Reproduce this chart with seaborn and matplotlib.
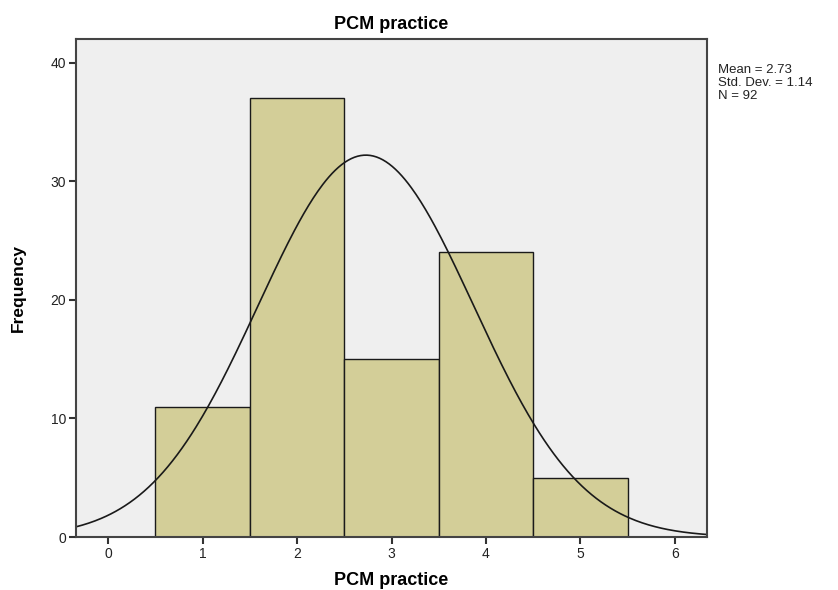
import numpy as np
import pandas as pd
import matplotlib
matplotlib.use("Agg")
import matplotlib.pyplot as plt
import seaborn as sns

# Response scores and how many respondents gave each
scores = [1, 2, 3, 4, 5]
counts = [11, 37, 15, 24, 5]
x_ticks = [0, 1, 2, 3, 4, 5, 6]
y_ticks = [0, 10, 20, 30, 40]
title = "PCM practice"

df = pd.DataFrame({"score": scores, "count": counts})

sns.set_theme(style="white")
plt.rcParams["font.family"] = ["Liberation Sans", "DejaVu Sans"]

fig = plt.figure(figsize=(8.38, 5.90), dpi=100)
ax = fig.add_axes([0.0907, 0.0898, 0.7530, 0.8442])
ax.set_facecolor("#efefef")

sns.histplot(data=df, x="score", weights="count", discrete=True,
             color="#d3ce98", alpha=1.0, edgecolor="#1a1a1a", linewidth=1.0,
             ax=ax)

# Normal curve fitted to the weighted data
n = sum(counts)
vals = np.repeat(scores, counts)
mean = vals.mean()
sd = vals.std(ddof=1)
xs = np.linspace(-0.34, 6.34, 400)
ys = n * 1.0 * np.exp(-0.5 * ((xs - mean) / sd) ** 2) / (sd * np.sqrt(2 * np.pi))
ax.plot(xs, ys, color="#1a1a1a", linewidth=1.2)

ax.set_xlim(-0.34, 6.34)
ax.set_ylim(0, 42)
ax.set_xticks(x_ticks)
ax.set_yticks(y_ticks)
ax.tick_params(axis="both", which="major", direction="out", length=5, width=1.5,
               color="#333333", labelsize=10, labelcolor="#222222", pad=2,
               bottom=True, left=True)
for s in ax.spines.values():
    s.set_color("#444444")
    s.set_linewidth(1.5)

ax.set_xlabel("PCM practice", fontsize=13, fontweight="bold", labelpad=8,
              color="black")
ax.set_ylabel("Frequency", fontsize=12.5, fontweight="bold", labelpad=18,
              family=["Liberation Sans Narrow", "Liberation Sans"], color="black")
ax.set_title(title, fontsize=13, fontweight="bold", pad=7, color="black")

fig.text(718 / 838, 1 - 64 / 590,
         f"Mean = {mean:.2f}\nStd. Dev. = {sd:.2f}\nN = {n}",
         fontsize=9.5, va="top", ha="left", linespacing=1.1, color="#222222")

fig.savefig("out.png", dpi=100)
